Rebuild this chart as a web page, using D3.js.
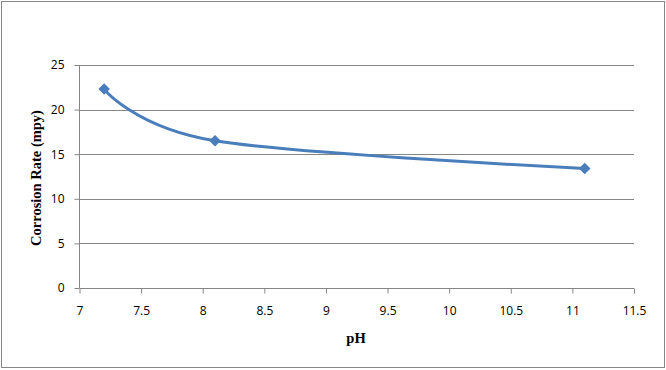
<!DOCTYPE html>
<html>
<head>
<meta charset="utf-8">
<script src="https://cdn.jsdelivr.net/npm/d3@7"></script>
<style>
  body { margin: 0; background: #fff; }
  svg { display: block; }
  .tick text { font-family: "Open Sans", "Liberation Sans", sans-serif; font-size: 12px; fill: #000; }
  .axis-title { font-family: "Liberation Serif", "Times New Roman", serif; font-weight: bold; font-size: 14.5px; fill: #000; }
</style>
</head>
<body>
<svg width="666" height="370"></svg>
<script>
// data
var phValues = [7.2, 8.1, 11.1];
var corrosionRates = [22.3, 16.5, 13.4];
var xTicks = [7, 7.5, 8, 8.5, 9, 9.5, 10, 10.5, 11, 11.5];
var yTicks = [0, 5, 10, 15, 20, 25];

var svg = d3.select("svg");
var margin = { top: 65, right: 32, bottom: 82, left: 79.5 };
var width = 666 - margin.left - margin.right;
var height = 370 - margin.top - margin.bottom;

// chart border
svg.append("rect")
  .attr("x", 1.5).attr("y", 1.5)
  .attr("width", 663).attr("height", 366)
  .attr("fill", "#fff")
  .attr("stroke", "#868686");

var g = svg.append("g")
  .attr("transform", "translate(" + margin.left + "," + margin.top + ")");

var x = d3.scaleLinear().domain([7, 11.5]).range([0, width]);
var y = d3.scaleLinear().domain([0, 25]).range([height, 0]);

// gridlines
g.append("g")
  .selectAll("line")
  .data(yTicks.slice(1))
  .enter().append("line")
  .attr("x1", 0).attr("x2", width)
  .attr("y1", function (d) { return Math.round(y(d)) + 0.5; })
  .attr("y2", function (d) { return Math.round(y(d)) + 0.5; })
  .attr("stroke", "#868686");

var xAxis = g.append("g")
  .attr("transform", "translate(0," + (Math.round(height) + 0.5) + ")")
  .call(d3.axisBottom(x).tickValues(xTicks).tickSize(5).tickPadding(13).tickFormat(d3.format("")));
var yAxis = g.append("g")
  .call(d3.axisLeft(y).tickValues(yTicks).tickSize(5).tickPadding(10));

[xAxis, yAxis].forEach(function (a) {
  a.select(".domain").attr("stroke", "#868686");
  a.selectAll(".tick line").attr("stroke", "#868686");
});
yAxis.select(".domain").attr("d", "M0,0V" + height);
xAxis.select(".domain").attr("d", "M0,0H" + width);

// smoothed series line (Excel-style smoothing ~ uniform Catmull-Rom)
var pts = phValues.map(function (d, i) { return [d, corrosionRates[i]]; });
var line = d3.line()
  .x(function (d) { return x(d[0]); })
  .y(function (d) { return y(d[1]); })
  .curve(d3.curveCardinal.tension(0));

g.append("path")
  .datum(pts)
  .attr("fill", "none")
  .attr("stroke", "#4a7ebb")
  .attr("stroke-width", 3)
  .attr("d", line);

g.selectAll(".marker")
  .data(pts)
  .enter().append("path")
  .attr("class", "marker")
  .attr("transform", function (d) { return "translate(" + x(d[0]) + "," + y(d[1]) + ")"; })
  .attr("d", d3.symbol().type(d3.symbolDiamond2).size(85))
  .attr("fill", "#4a7ebb");

// axis titles
svg.append("text")
  .attr("class", "axis-title")
  .attr("text-anchor", "middle")
  .attr("transform", "translate(41,178) rotate(-90)")
  .text("Corrosion Rate (mpy)");

svg.append("text")
  .attr("class", "axis-title")
  .attr("text-anchor", "middle")
  .attr("x", 356).attr("y", 343)
  .text("pH");
</script>
</body>
</html>
